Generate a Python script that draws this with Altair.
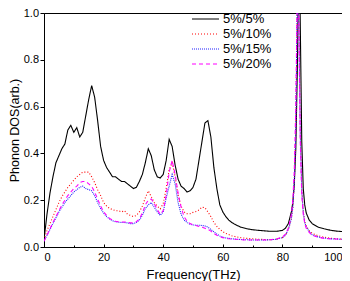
import altair as alt
import pandas as pd

freq = list(range(0, 65)) + [66, 68, 70, 72, 74, 76, 78, 80, 81, 82, 83,
        83.5, 84, 84.5, 85, 85.25, 85.5, 85.75, 86, 86.5, 87, 87.5, 88,
        89, 90, 92, 94, 96, 98, 100]

s_5_5 = [0.03, 0.14, 0.23, 0.30, 0.36, 0.39, 0.42, 0.44, 0.50, 0.52,
         0.49, 0.51, 0.47, 0.49, 0.56, 0.63, 0.69, 0.64, 0.54, 0.43,
         0.37, 0.34, 0.32, 0.30, 0.30, 0.29, 0.28, 0.28, 0.27, 0.26,
         0.25, 0.255, 0.28, 0.31, 0.36, 0.42, 0.39, 0.33, 0.30, 0.295,
         0.31, 0.37, 0.46, 0.43, 0.35, 0.29, 0.26, 0.25, 0.235, 0.24,
         0.255, 0.29, 0.37, 0.45, 0.53, 0.54, 0.47, 0.34, 0.25, 0.18,
         0.15, 0.13, 0.115, 0.105, 0.097,
         0.085, 0.078, 0.074, 0.071, 0.069, 0.067, 0.067, 0.071,
         0.08, 0.10, 0.15,
         0.19, 0.27, 0.42, 0.75, 1.0, 1.2, 1.2, 0.95, 0.45, 0.25, 0.18, 0.145,
         0.115, 0.10, 0.085, 0.078, 0.072, 0.068, 0.066]

s_5_10 = [0.03, 0.07, 0.10, 0.13, 0.16, 0.19, 0.215, 0.235, 0.255, 0.27,
          0.285, 0.30, 0.31, 0.32, 0.32, 0.32, 0.30, 0.275, 0.245, 0.22,
          0.19, 0.175, 0.165, 0.16, 0.155, 0.155, 0.15, 0.155, 0.14, 0.135,
          0.13, 0.135, 0.15, 0.175, 0.21, 0.24, 0.215, 0.19, 0.175, 0.163,
          0.185, 0.25, 0.33, 0.36, 0.30, 0.22, 0.175, 0.15, 0.142, 0.142,
          0.148, 0.152, 0.158, 0.17, 0.168, 0.15, 0.13, 0.105, 0.088, 0.075,
          0.066, 0.058, 0.053, 0.048, 0.045,
          0.04, 0.037, 0.035, 0.033, 0.032, 0.031, 0.033, 0.04,
          0.05, 0.075, 0.12,
          0.17, 0.28, 0.5, 1.05, 1.2, 1.0, 0.75, 0.5, 0.25, 0.15, 0.11, 0.09,
          0.07, 0.058, 0.048, 0.042, 0.038, 0.035, 0.034]

s_5_15 = [0.025, 0.05, 0.075, 0.10, 0.125, 0.15, 0.17, 0.19, 0.205, 0.22,
          0.235, 0.245, 0.255, 0.26, 0.25, 0.245, 0.24, 0.22, 0.19, 0.165,
          0.145, 0.13, 0.12, 0.112, 0.108, 0.106, 0.105, 0.105, 0.103, 0.10,
          0.10, 0.105, 0.115, 0.135, 0.165, 0.18, 0.19, 0.17, 0.15, 0.135,
          0.15, 0.21, 0.26, 0.31, 0.27, 0.19, 0.14, 0.115, 0.105, 0.097,
          0.094, 0.093, 0.093, 0.092, 0.09, 0.085, 0.075, 0.065, 0.055, 0.047,
          0.042, 0.039, 0.037, 0.035, 0.034,
          0.032, 0.031, 0.03, 0.03, 0.03, 0.031, 0.033, 0.04,
          0.05, 0.075, 0.12,
          0.17, 0.28, 0.5, 1.05, 1.2, 1.0, 0.72, 0.48, 0.24, 0.15, 0.105, 0.085,
          0.066, 0.052, 0.043, 0.038, 0.035, 0.034, 0.033]

s_5_20 = [0.025, 0.05, 0.078, 0.105, 0.13, 0.155, 0.18, 0.2, 0.22, 0.235,
          0.25, 0.26, 0.275, 0.28, 0.28, 0.27, 0.26, 0.235, 0.205, 0.175,
          0.15, 0.135, 0.122, 0.115, 0.11, 0.108, 0.107, 0.107, 0.105, 0.103,
          0.103, 0.108, 0.12, 0.145, 0.18, 0.2, 0.205, 0.185, 0.16, 0.14,
          0.155, 0.22, 0.32, 0.37, 0.31, 0.23, 0.17, 0.13, 0.11, 0.10,
          0.095, 0.092, 0.088, 0.085, 0.08, 0.075, 0.068, 0.058, 0.05, 0.044,
          0.04, 0.037, 0.035, 0.034, 0.033,
          0.031, 0.03, 0.03, 0.03, 0.03, 0.031, 0.034, 0.042,
          0.055, 0.08, 0.14,
          0.2, 0.33, 0.6, 1.1, 1.2, 1.0, 0.7, 0.45, 0.22, 0.14, 0.1, 0.08,
          0.062, 0.05, 0.042, 0.037, 0.035, 0.034, 0.033]

series = ["5%/5%", "5%/10%", "5%/15%", "5%/20%"]
colors = ["#000000", "#ff0000", "#2020ff", "#ff00ff"]
dashes = [[1, 0], [1, 2], [1, 1], [4, 3]]

x_major = [0, 20, 40, 60, 80, 100]
x_all = [0, 10, 20, 30, 40, 50, 60, 70, 80, 90, 100]
y_all = [0.0, 0.1, 0.2, 0.3, 0.4, 0.5, 0.6, 0.7, 0.8, 0.9, 1.0]

rows = []
for name, vals in zip(series, [s_5_5, s_5_10, s_5_15, s_5_20]):
    for f, v in zip(freq, vals):
        rows.append({"f": f, "v": v, "s": name})
df = pd.DataFrame(rows)

W, H = 298, 234
xs = alt.Scale(domain=[0, 100], nice=False)
ys = alt.Scale(domain=[0, 1], nice=False)
FONT = "Liberation Sans"

minor_y = "round(datum.value * 10) % 2 == 1"
minor_x = "round(datum.value / 10) % 2 == 1"

main = alt.Chart(df).mark_line(strokeWidth=1.1, clip=True).encode(
    x=alt.X("f:Q", scale=xs, axis=alt.Axis(
        values=x_major, title="Frequency(THz)", orient="bottom", ticks=False,
        tickSize=0, labelPadding=4, titlePadding=6, grid=False, format="d",
        titleFontSize=13)),
    y=alt.Y("v:Q", scale=ys, axis=alt.Axis(
        values=y_all, title="Phonon DOS(arb.)", orient="left",
        tickSize={"condition": {"test": minor_y, "value": 2}, "value": 4},
        labelExpr="round(datum.value * 10) % 2 == 1 ? '' : format(datum.value, '.1f')",
        labelPadding=1.5, titlePadding=1.5, grid=False, titleFontSize=12.5)),
    color=alt.Color("s:N", scale=alt.Scale(domain=series, range=colors),
                    sort=series, title=None),
    strokeDash=alt.StrokeDash("s:N", scale=alt.Scale(domain=series, range=dashes),
                              sort=series, title=None),
    order=alt.Order("ord:Q"),
).transform_calculate(ord="indexof(['5%/5%','5%/10%','5%/15%','5%/20%'], datum.s)")

ticks_x = alt.Chart(df).mark_line(opacity=0).encode(
    x=alt.X("f:Q", scale=xs, axis=alt.Axis(
        values=x_all, labels=False, title=None, domain=False, grid=False,
        orient="top", offset=-H,
        tickSize={"condition": {"test": minor_x, "value": 2}, "value": 3})),
    y=alt.Y("v:Q", scale=ys),
    detail="s:N",
)

chart = alt.layer(main, ticks_x).resolve_axis(x="independent").properties(
    width=W, height=H,
    autosize=alt.AutoSizeParams(type="none"),
    padding={"left": 36, "top": 5, "right": 0, "bottom": 34},
).configure_view(stroke="black", strokeWidth=1).configure_axis(
    labelFont=FONT, titleFont=FONT, labelFontSize=11,
    titleFontWeight="normal", labelColor="black", titleColor="black",
    domainColor="black", tickColor="black", domainWidth=1, tickWidth=1,
).configure_legend(
    orient="none", legendX=147, legendY=-1, symbolType="stroke",
    symbolSize=729, symbolStrokeWidth=1.1, labelFont=FONT, labelFontSize=13,
    labelColor="black", labelOffset=3, rowPadding=1, padding=0, clipHeight=14,
)

chart.save("out.html", embed_options={"renderer": "svg", "actions": False})
